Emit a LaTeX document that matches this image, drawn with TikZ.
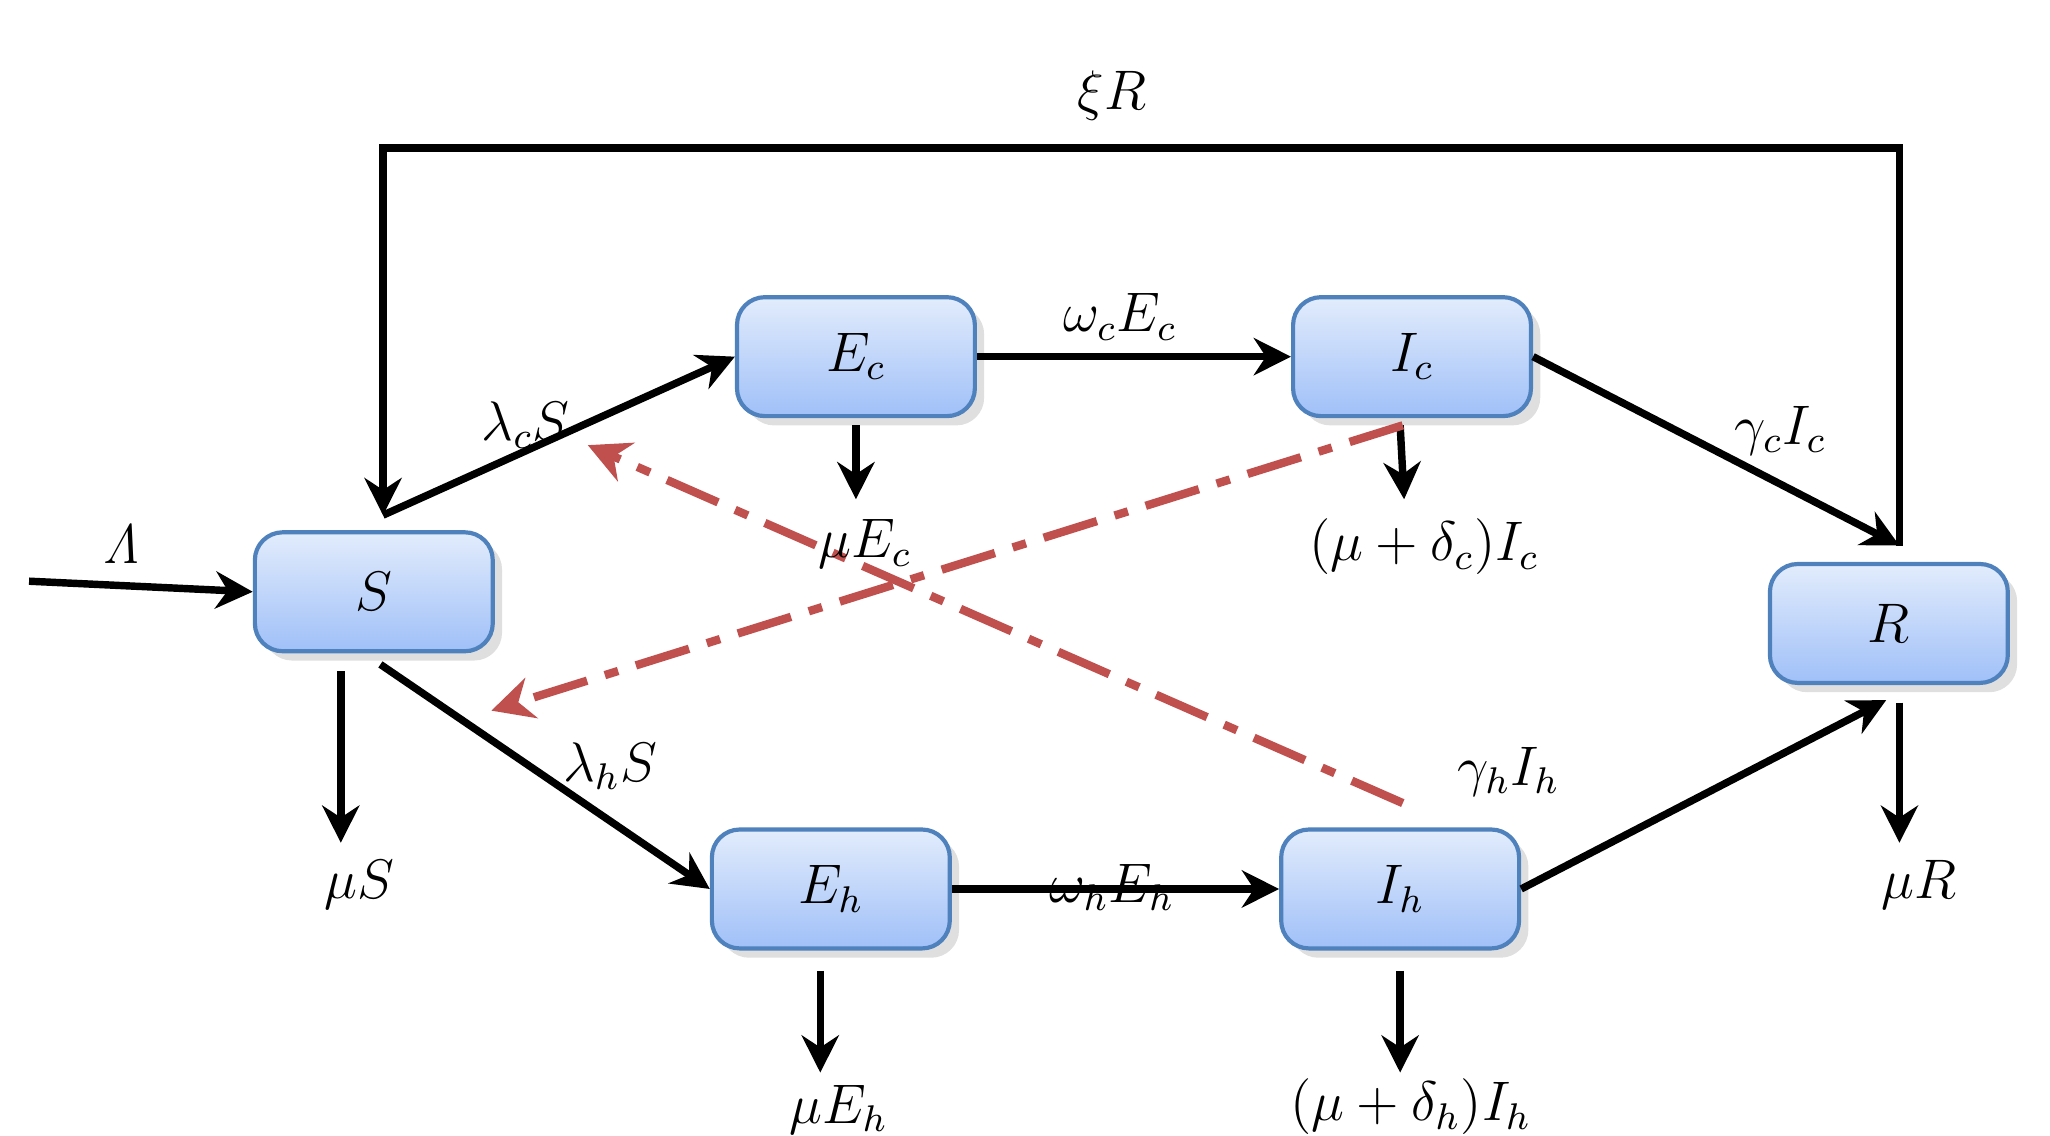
\documentclass[tikz,border=0pt]{standalone}
\usepackage{amsmath}
\usetikzlibrary{arrows.meta,positioning,shadows}
\definecolor{boxline}{RGB}{79,129,189}
\definecolor{boxtop}{RGB}{226,236,252}
\definecolor{boxbot}{RGB}{160,192,248}
\definecolor{dashred}{RGB}{192,80,77}
\tikzset{
	comp/.style={draw=boxline,line width=0.9pt,rounded corners=6pt,
		minimum width=1.8cm,minimum height=0.9cm,
		top color=boxtop,bottom color=boxbot,
		drop shadow={opacity=0.25,shadow xshift=2pt,shadow yshift=-2pt},
		font=\large},
	flow/.style={line width=1.6pt,-{Stealth[length=8pt,width=8pt]}},
	cross/.style={line width=1.8pt,dashred,dash pattern=on 12pt off 4pt on 3pt off 4pt,
		-{Stealth[length=9pt,width=9pt]}},
	rate/.style={font=\large}
}
\begin{document}
\begin{tikzpicture}[x=0.01cm,y=-0.01cm]
	\useasboundingbox (0,0) rectangle (1552,860);
	% compartments
	\node[comp] (S) at (283,448) {$S$};
	\node[comp] (Ec) at (648,270) {$E_c$};
	\node[comp] (Ic) at (1069,270) {$I_c$};
	\node[comp] (Eh) at (629,673) {$E_h$};
	\node[comp] (Ih) at (1060,673) {$I_h$};
	\node[comp] (R) at (1430,472) {$R$};
	% free ends
	\coordinate (in) at (22,440);
	\coordinate (Stop) at (290,390);
	\coordinate (Sbot) at (288,503);
	\coordinate (Rtop) at (1438,413);
	\coordinate (Rin) at (1428,530);
	\coordinate (oEc) at (648,378);
	\coordinate (oIc) at (1063,378);
	\coordinate (oS) at (258,638);
	\coordinate (oEh) at (621,812);
	\coordinate (oIh) at (1060,812);
	\coordinate (oR) at (1438,638);
	% main flows
	\draw[flow] (in) -- (S.west);
	\draw[flow] (Stop) -- (Ec.west);
	\draw[flow] (Ec.east) -- (Ic.west);
	\draw[flow] (Ic.east) -- (Rtop);
	\draw[flow] (Rtop) -- (1438,112) -- (290,112) -- (Stop);
	\draw[flow] (Sbot) -- (Eh.west);
	\draw[flow] (Eh.east) -- (Ih.west);
	\draw[flow] (Ih.east) -- (Rin);
	% outflows
	\draw[flow] (Ec.south |- 0,322) -- (oEc);
	\draw[flow] (1060,322) -- (oIc);
	\draw[flow] (258,508) -- (oS);
	\draw[flow] (621,735) -- (oEh);
	\draw[flow] (1060,735) -- (oIh);
	\draw[flow] (1438,532) -- (oR);
	% infection
	\draw[cross] (1062,322) -- (372,538);
	\draw[cross] (1062,608) -- (445,337);
	% labels
	\node[rate] (lL) at (92,412) {$\mathit{\Lambda}$};
	\node[rate] (lxi) at (842,72) {$\xi R$};
	\node[rate] (llc) at (398,322) {$\lambda_c S$};
	\node[rate] (lwc) at (848,240) {$\omega_c E_c$};
	\node[rate] (lgc) at (1348,326) {$\gamma_c I_c$};
	\node[rate] (lmEc) at (655,412) {$\mu E_c$};
	\node[rate] (lmIc) at (1078,414) {$(\mu+\delta_c)I_c$};
	\node[rate] (lmS) at (272,670) {$\mu S$};
	\node[rate] (llh) at (462,580) {$\lambda_h S$};
	\node[rate] (lwh) at (842,672) {$\omega_h E_h$};
	\node[rate] (lgh) at (1142,584) {$\gamma_h I_h$};
	\node[rate] (lmEh) at (635,840) {$\mu E_h$};
	\node[rate] (lmIh) at (1068,838) {$(\mu+\delta_h)I_h$};
	\node[rate] (lmR) at (1453,670) {$\mu R$};
\end{tikzpicture}
\end{document}
